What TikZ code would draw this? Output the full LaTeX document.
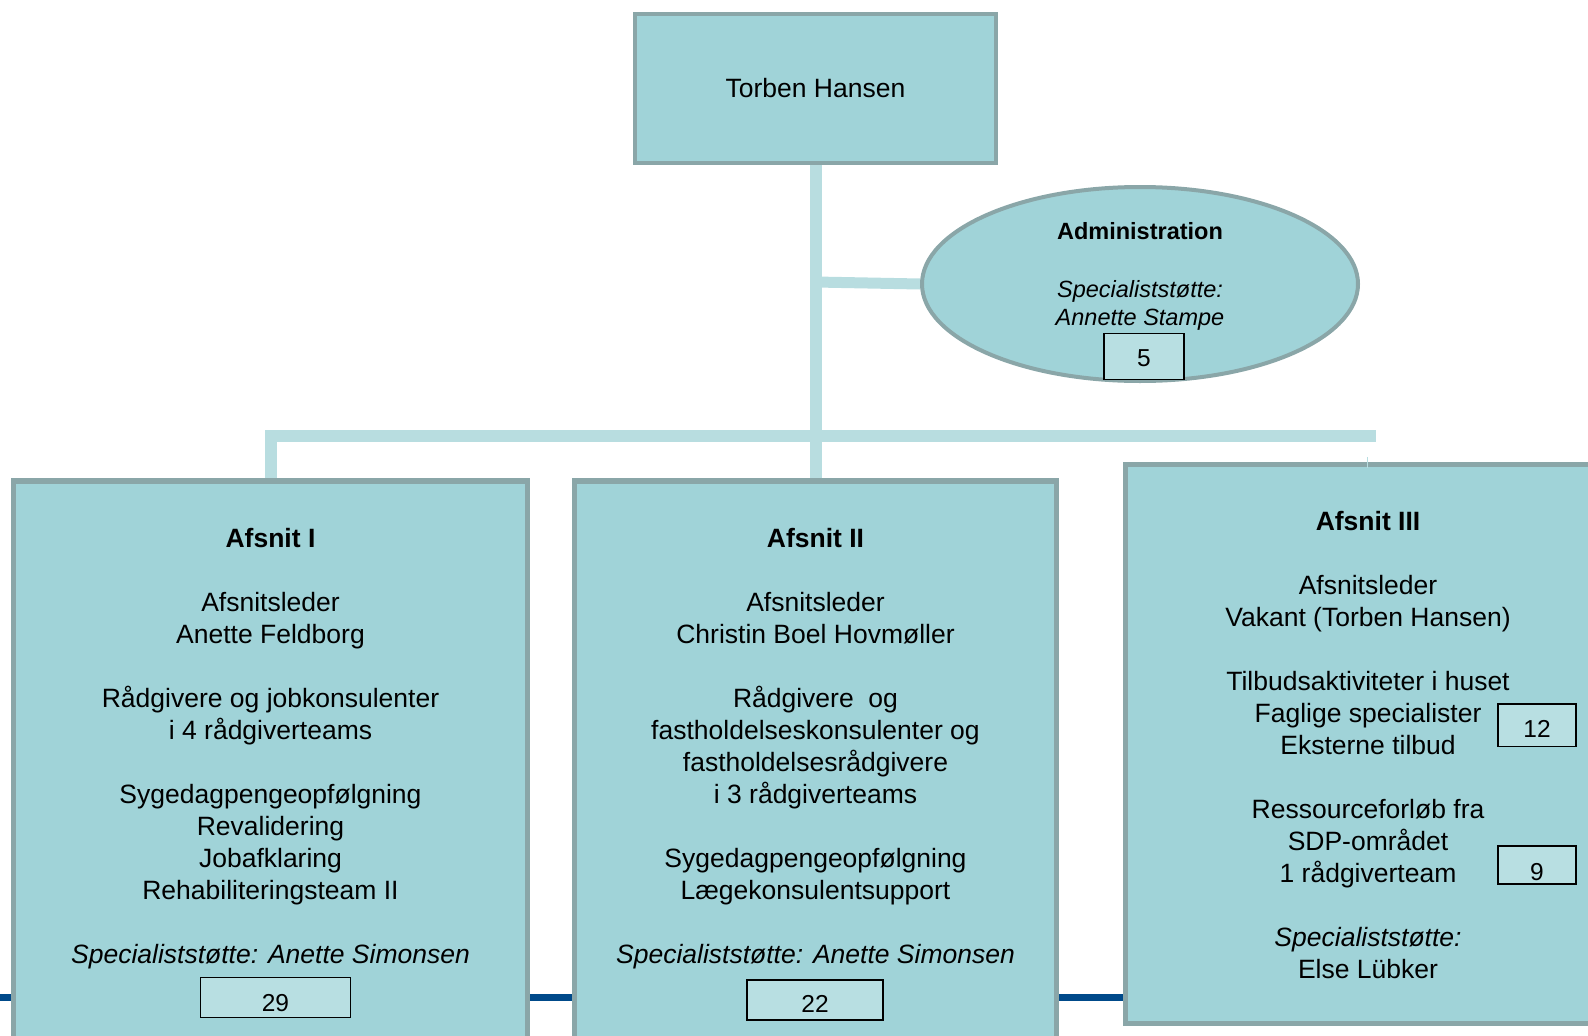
\documentclass[tikz,border=0pt]{standalone}
\usepackage{fontspec}
\setmainfont{Liberation Sans}
\usetikzlibrary{shapes.geometric}
\pgfdeclarelayer{bg}
\pgfsetlayers{bg,main}
\definecolor{boxfill}{HTML}{A0D3D8}
\definecolor{boxline}{HTML}{8AA6A8}
\definecolor{linkcol}{HTML}{B8DDE0}
\definecolor{numfill}{HTML}{B8DFE2}
\definecolor{rulecol}{HTML}{004A8A}
\newcommand\digits[2]{\raisebox{#1}[0pt][0pt]{#2}}
\tikzset{
  unitbox/.style={rectangle, draw=boxline, fill=boxfill, line width=5.5pt, inner sep=0pt},
  link/.style={draw=linkcol, line width=12pt, line join=miter},
  body/.style={align=center, inner sep=0pt, anchor=base, font=\fontsize{26.5}{32}\selectfont},
  small/.style={align=center, inner sep=0pt, anchor=base, font=\fontsize{23.5}{28}\selectfont},
  count/.style={rectangle, draw=black, fill=numfill, line width=1.6pt, inner sep=0pt,
    font=\fontsize{24.5}{28}\selectfont},
}
\begin{document}
\begin{tikzpicture}[x=1pt,y=-1pt]
\useasboundingbox (0,0) rectangle (1588,1036);

% director
\node[unitbox, line width=4.5pt, minimum width=361pt, minimum height=149pt,
  font=\fontsize{26.5}{32}\selectfont] (top) at (815.5,88.5) {Torben Hansen};

% administration (text nodes are anchored at the baseline of their last line)
\node[ellipse, draw=boxline, fill=boxfill, line width=4pt, inner sep=0pt,
  minimum width=436pt, minimum height=194pt] (adm) at (1140,284) {};
\node[small] (admtxt) at (1140,325.4) {\textbf{Administration}\\[30pt]
  \textit{Specialiststøtte:}\\ \textit{Annette Stampe}};
\node[count, minimum width=80pt, minimum height=46pt] (n5) at (1144,356.5) {\digits{-9.8pt}{5}};

% sections
\node[unitbox, minimum width=514pt, minimum height=579pt] (sec1) at (270.5,770.5) {};
\node[unitbox, minimum width=482pt, minimum height=579pt] (sec2) at (815.5,770.5) {};
\node[unitbox, minimum width=484.5pt, minimum height=559pt] (sec3) at (1367.75,744) {};

\node[body] (txt1) at (270.5,963.5) {\textbf{Afsnit I}\\[32pt]
  Afsnitsleder\\ Anette Feldborg\\[32pt]
  Rådgivere og jobkonsulenter\\ i 4 rådgiverteams\\[32pt]
  Sygedagpengeopfølgning\\ Revalidering\\ Jobafklaring\\ Rehabiliteringsteam II\\[32pt]
  \textit{Specialiststøtte: Anette Simonsen}};
\node[body] (txt2) at (815.5,963.5) {\textbf{Afsnit II}\\[32pt]
  Afsnitsleder\\ Christin Boel Hovmøller\\[32pt]
  Rådgivere\ \ og\\ fastholdelseskonsulenter og\\ fastholdelsesrådgivere\\ i 3 rådgiverteams\\[32pt]
  Sygedagpengeopfølgning\\ Lægekonsulentsupport\\[32pt]
  \textit{Specialiststøtte: Anette Simonsen}};
\node[body] (txt3) at (1368,978.5) {\textbf{Afsnit III}\\[32pt]
  Afsnitsleder\\ Vakant (Torben Hansen)\\[32pt]
  Tilbudsaktiviteter i huset\\ Faglige specialister\\ Eksterne tilbud\\[32pt]
  Ressourceforløb fra\\ SDP-området\\ 1 rådgiverteam\\[32pt]
  \textit{Specialiststøtte:}\\ Else Lübker};

% head counts
\node[count, minimum width=150pt, minimum height=40pt] (n29) at (275.5,997.5) {\digits{-13.8pt}{29}};
\node[count, minimum width=136pt, minimum height=40pt] (n22) at (815,1000) {\digits{-12.8pt}{22}};
\node[count, minimum width=78pt, minimum height=42.5pt] (n12) at (1537,725.3) {\digits{-12.6pt}{12}};
\node[count, minimum width=78pt, minimum height=38pt] (n9) at (1537,865) {\digits{-15.1pt}{9}};

% connectors behind the boxes
\coordinate (fork) at (815.5,282);
\coordinate (barR) at (1376,436);
\begin{pgfonlayer}{bg}
  \draw[draw=rulecol, line width=7pt] (0,997) -- (1588,997);
  \draw[link] (top.south) -- (sec2.north);
  \draw[link, line width=11pt] (fork) -- (adm.west);
  \draw[link] (sec1.north) |- (barR);
\end{pgfonlayer}
\draw[draw=linkcol, line width=1pt] ([yshift=5pt]sec3.north) -- ([yshift=-6pt]sec3.north);
\end{tikzpicture}
\end{document}
